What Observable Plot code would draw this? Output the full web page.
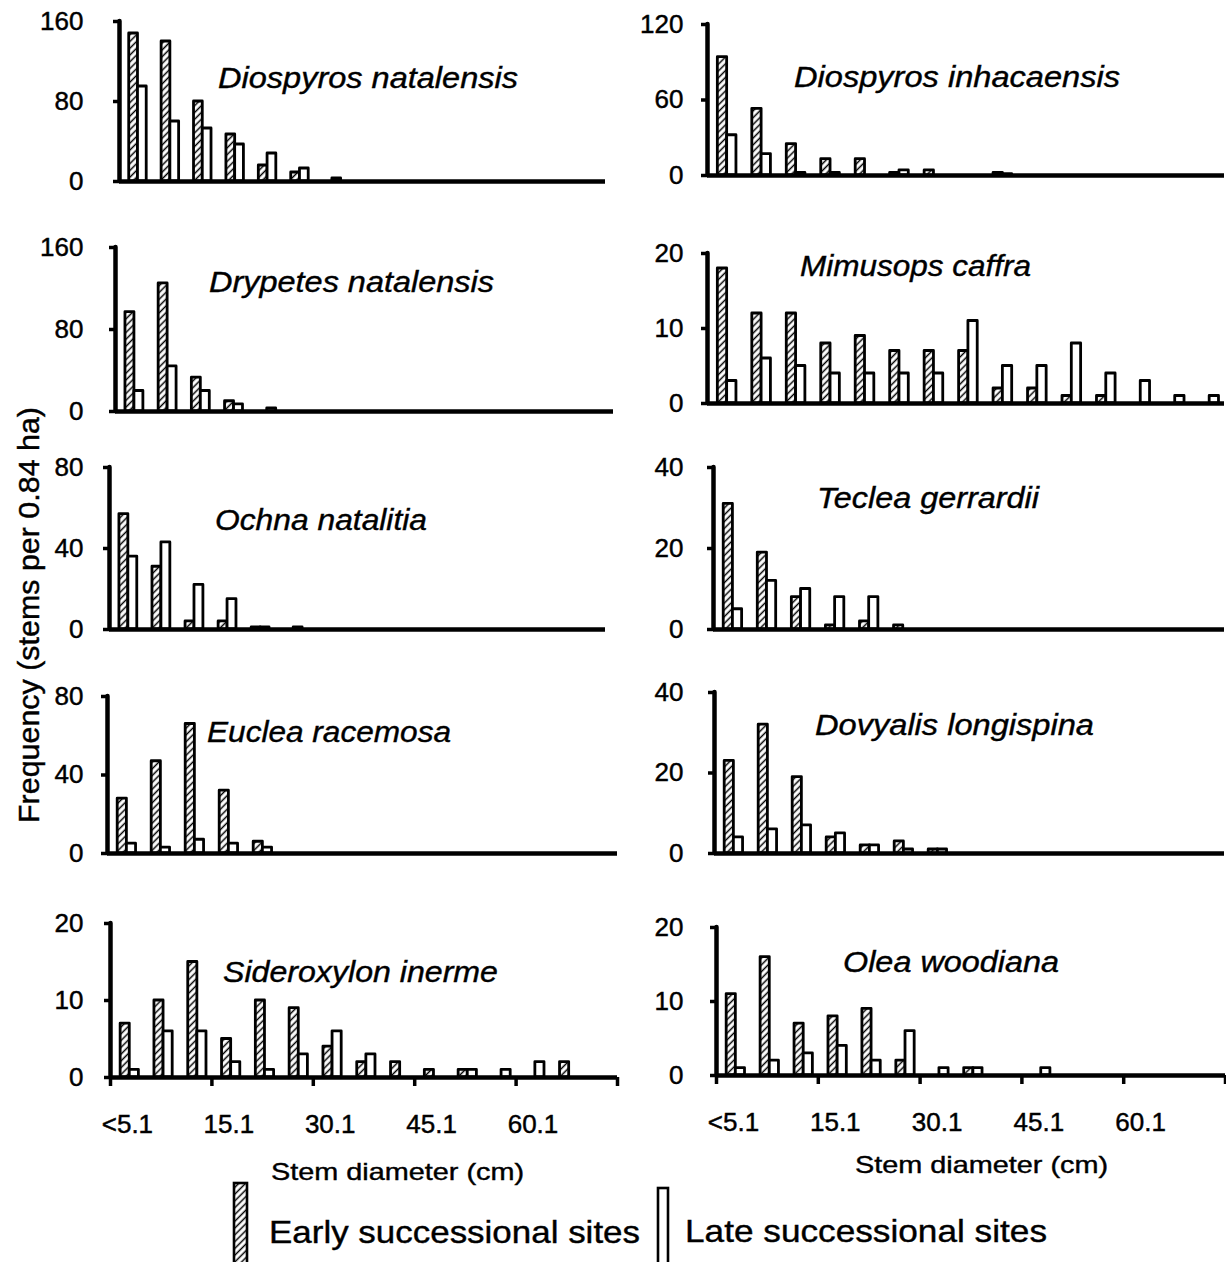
<!DOCTYPE html>
<html><head><meta charset="utf-8">
<script src="https://cdn.jsdelivr.net/npm/d3@7"></script>
<script src="https://cdn.jsdelivr.net/npm/@observablehq/plot@0.6"></script>
<style>
html,body{margin:0;padding:0;background:#fff;}
#fig{position:relative;width:1226px;height:1262px;overflow:hidden;background:#fff;}
#fig > svg{position:absolute;}
</style></head><body><div id="fig"></div>
<script>
// ---------------- DATA ----------------
const classes = ["<5.1","5.1","10.1","15.1","20.1","25.1","30.1","35.1","40.1","45.1","50.1","55.1","60.1","65.1","70.1"];
const labelledClasses = ["<5.1","15.1","30.1","45.1","60.1"];
const seriesNames = ["Early successional sites","Late successional sites"];

const dnEarly  = [148,140,80,47,16,9,0,0,0,0,0,0,0,0,0];
const dnLate   = [95,60,53,37,28,13,3,0,0,0,0,0,0,0,0];
const diEarly  = [94,53,25,13,13,2,4,0,2,0,0,0,0,0,0];
const diLate   = [32,17,2,2,0,4,0,0,1,0,0,0,0,0,0];
const drEarly  = [97,125,33,10,0,0,0,0,0,0,0,0,0,0,0];
const drLate   = [20,44,20,7,3,0,0,0,0,0,0,0,0,0,0];
const miEarly  = [18,12,12,8,9,7,7,7,2,2,1,1,0,0,0];
const miLate   = [3,6,5,4,4,4,4,11,5,5,8,4,3,1,1];
const ocEarly  = [57,31,4,4,1,0,0,0,0,0,0,0,0,0,0];
const ocLate   = [36,43,22,15,1,1,0,0,0,0,0,0,0,0,0];
const teEarly  = [31,19,8,1,2,1,0,0,0,0,0,0,0,0,0];
const teLate   = [5,12,10,8,8,0,0,0,0,0,0,0,0,0,0];
const euEarly  = [28,47,66,32,6,0,0,0,0,0,0,0,0,0,0];
const euLate   = [5,3,7,5,3,0,0,0,0,0,0,0,0,0,0];
const dvEarly  = [23,32,19,4,2,3,1,0,0,0,0,0,0,0,0];
const dvLate   = [4,6,7,5,2,1,1,0,0,0,0,0,0,0,0];
const siEarly  = [7,10,15,5,10,9,4,2,2,1,1,0,0,2,0];
const siLate   = [1,6,6,2,1,3,6,3,0,0,1,1,2,0,0];
const olEarly  = [11,16,7,8,9,2,0,1,0,0,0,0,0,0,0];
const olLate   = [1,2,3,4,2,6,1,1,0,1,0,0,0,0,0];

const yMaxes = [160,120,160,20,80,40,80,40,20,20];
const speciesNames = ["Diospyros natalensis","Diospyros inhacaensis","Drypetes natalensis","Mimusops caffra",
  "Ochna natalitia","Teclea gerrardii","Euclea racemosa","Dovyalis longispina","Sideroxylon inerme","Olea woodiana"];
const earlySeries = [dnEarly,diEarly,drEarly,miEarly,ocEarly,teEarly,euEarly,dvEarly,siEarly,olEarly];
const lateSeries  = [dnLate,diLate,drLate,miLate,ocLate,teLate,euLate,dvLate,siLate,olLate];

// ---------------- LAYOUT (pixels) ----------------
const FONT = '"Liberation Sans", Arial, Helvetica, sans-serif';
// ax: y-axis x, ex: x-axis end, yt: y of max tick, yz: y of zero line
const layout = [
  {col:0, ax:119, ex:605, yt:21,  yz:181},
  {col:1, ax:707, ex:1224, yt:24, yz:175},
  {col:0, ax:115, ex:613, yt:247, yz:411},
  {col:1, ax:707, ex:1224, yt:253, yz:403},
  {col:0, ax:109, ex:605, yt:467, yz:629},
  {col:1, ax:713, ex:1224, yt:467, yz:629},
  {col:0, ax:107, ex:617, yt:696, yz:853},
  {col:1, ax:714, ex:1224, yt:692, yz:853},
  {col:0, ax:110, ex:617, yt:923, yz:1077, bottom:true},
  {col:1, ax:716, ex:1225, yt:927, yz:1075, bottom:true}
];
const labelPos = [[218,88,300],[794,87,326],[209,292,285],[800,276,231],[215,530,212],
                  [817,508,222],[207,742,244],[815,735,279],[223,982,275],[843,972,216]];
const E0 = 0.30, E1 = 0.57, L1 = 0.84; // bar slot fractions inside a class

const fig = document.getElementById("fig");

// hatch pattern
const defsSvg = d3.select(fig).append("svg").attr("width",0).attr("height",0).style("left","0px").style("top","0px");
const pat = defsSvg.append("defs").append("pattern").attr("id","hatch")
  .attr("patternUnits","userSpaceOnUse").attr("width",4.8).attr("height",4.8)
  .attr("patternTransform","rotate(45)");
pat.append("rect").attr("width",4.8).attr("height",4.8).attr("fill","white");
pat.append("line").attr("x1",2.4).attr("y1",-1).attr("x2",2.4).attr("y2",6).attr("stroke","black").attr("stroke-width",1.5);

function drawPanel(k) {
  const p = layout[k];
  const ymax = yMaxes[k];
  const rows = classes.map((c,i) => ({i, cls:c, early: earlySeries[k][i], late: lateSeries[k][i]}));
  const svgLeft = p.col === 0 ? 0 : 615;
  const mL = p.ax - svgLeft, mR = 4, mT = 16, mB = p.bottom ? 72 : 12;
  const labelEnd = p.col === 0 ? 83 : 683;
  const tickSize = 6;
  const marks = [
    Plot.rect(rows.filter(d => d.early > 0), {x1: d => d.i + E0, x2: d => d.i + E1, y1: 0, y2: "early",
      fill: "url(#hatch)", stroke: "black", strokeWidth: 2.8, strokeLinejoin: "round"}),
    Plot.rect(rows.filter(d => d.late > 0), {x1: d => d.i + E1, x2: d => d.i + L1, y1: 0, y2: "late",
      fill: "white", stroke: "black", strokeWidth: 2.8, strokeLinejoin: "round"}),
    Plot.ruleY([0], {stroke: "black", strokeWidth: 4.5}),
    Plot.ruleX([0], {y1: 0, y2: ymax, stroke: "black", strokeWidth: 4.5, strokeLinecap: "round"}),
    Plot.axisY({ticks: [0, ymax/2, ymax], tickSize, tickPadding: p.ax - labelEnd - tickSize,
      fontSize: 26, strokeWidth: 3.5, tickFormat: d => String(d)})
  ];
  if (p.bottom) {
    marks.push(Plot.axisX({ticks: [0,3,6,9,12,15], tickSize: 9, strokeWidth: 3.5, tickFormat: () => ""}));
    marks.push(Plot.axisX({ticks: labelledClasses.map(c => classes.indexOf(c) + 0.5), tickSize: 0, tickPadding: 37,
      fontSize: 26, tickFormat: d => classes[Math.floor(d)]}));
  }
  const chart = Plot.plot({
    width: p.ex - svgLeft + mR,
    height: (p.yz - p.yt) + mT + mB,
    marginLeft: mL, marginRight: mR, marginTop: mT, marginBottom: mB,
    style: {background: "none", fontFamily: FONT, overflow: "visible", color: "black"},
    x: {domain: [0, 15], axis: p.bottom ? undefined : null},
    y: {domain: [0, ymax], axis: null},
    marks
  });
  chart.style.position = "absolute";
  chart.style.left = svgLeft + "px";
  chart.style.top = (p.yt - mT) + "px";
  chart.style.maxWidth = "none";
  d3.select(chart).selectAll("text").attr("stroke","black").attr("stroke-width",0.45);
  fig.appendChild(chart);
}
for (let k = 0; k < 10; k++) drawPanel(k);

// ---------------- TEXT OVERLAY ----------------
const ov = d3.select(fig).append("svg").attr("width",1226).attr("height",1262)
  .style("left","0px").style("top","0px").style("pointer-events","none");
function txt(s, x, y, size, len, o = {}) {
  const t = ov.append("text").attr("x",x).attr("y",y).attr("font-size",size)
    .attr("font-family",FONT).attr("fill","black").attr("stroke","black").attr("stroke-width",0.4).text(s);
  if (len) t.attr("textLength",len).attr("lengthAdjust","spacingAndGlyphs");
  if (o.italic) t.attr("font-style","italic");
  if (o.anchor) t.attr("text-anchor",o.anchor);
  if (o.transform) t.attr("transform",o.transform);
  return t;
}
speciesNames.forEach((n,k) => {
  const [x,y,len] = labelPos[k];
  txt(n, x, y, 29, len, {italic:true});
});
txt("Frequency (stems per 0.84 ha)", 0, 0, 29, 416, {anchor:"middle", transform:"translate(39,615) rotate(-90)"});
txt("Stem diameter (cm)", 271, 1180, 24, 253);
txt("Stem diameter (cm)", 855, 1173, 24, 253);
// legend
ov.append("rect").attr("x",234).attr("y",1183).attr("width",13).attr("height",100)
  .attr("fill","url(#hatch)").attr("stroke","black").attr("stroke-width",2.6);
ov.append("rect").attr("x",658).attr("y",1188).attr("width",10).attr("height",100)
  .attr("fill","white").attr("stroke","black").attr("stroke-width",2.6);
txt(seriesNames[0], 269, 1243, 32, 371);
txt(seriesNames[1], 685, 1242, 32, 362);
</script></body></html>
